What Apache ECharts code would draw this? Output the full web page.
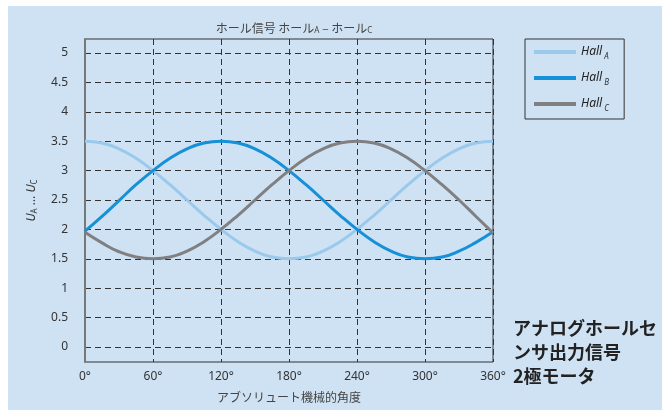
<!DOCTYPE html>
<html>
<head>
<meta charset="utf-8">
<script src="https://cdn.jsdelivr.net/npm/echarts@6/dist/echarts.min.js"></script>
<style>
html,body{margin:0;padding:0;background:#fff;}
#chart{width:662px;height:410px;background:linear-gradient(#cfe2f3,#cfe2f3) no-repeat 8px 6px / 654px 404px, #fff;}
</style>
</head>
<body>
<div id="chart"></div>
<script>
// Data
const angles = [0,15,30,45,60,75,90,105,120,135,150,165,180,195,210,225,240,255,270,285,300,315,330,345,360];
const hallA = [3.50,3.47,3.37,3.21,3.00,2.76,2.50,2.24,2.00,1.79,1.63,1.53,1.50,1.53,1.63,1.79,2.00,2.24,2.50,2.76,3.00,3.21,3.37,3.47,3.50];
const hallB = [1.97,2.22,2.49,2.76,3.00,3.21,3.37,3.47,3.50,3.47,3.37,3.21,3.00,2.76,2.50,2.24,2.00,1.79,1.63,1.53,1.50,1.53,1.63,1.78,1.96];
const hallC = [1.95,1.77,1.62,1.53,1.50,1.53,1.63,1.79,2.00,2.24,2.50,2.76,3.00,3.21,3.37,3.47,3.50,3.47,3.37,3.21,3.00,2.76,2.50,2.22,1.94];
const xTicks = [0,60,120,180,240,300,360];
const legendBase = 'Hall';
const subs = ['A','B','C'];
// unique series names that all display as "Hall" (zero-width suffixes)
const seriesNames = subs.map((s,k)=>legendBase + '\u200b'.repeat(k));

const FONT = "'Noto Sans', 'Noto Sans CJK JP', sans-serif";
const JFONT = "'Noto Sans CJK JP', 'Noto Sans', sans-serif";
const colors = ['#9ac9ec','#1690d6','#808082'];

function pairs(vals){ return angles.map((a,i)=>[a, vals[i]]); }

// legend geometry
const LEG_LEFT = 525, LEG_TOP = 39, LEG_PAD = [7,22,9,9], ROW_H = 12, ROW_GAP = 14;
const ICON_W = 42, TEXT_GAP = 8, LEG_FONT = 12;
const ctx = document.createElement('canvas').getContext('2d');
ctx.font = 'italic ' + LEG_FONT + 'px ' + FONT;
const baseW = ctx.measureText(legendBase).width;
const subX = LEG_LEFT + LEG_PAD[3] + ICON_W + TEXT_GAP + baseW - 1;

const chart = echarts.init(document.getElementById('chart'), null, {renderer:'canvas'});
const dash = {color:'#333', type:[6,4], width:1};

const subGraphics = subs.map((s,k)=>({
  type:'text', left:subX, top: LEG_TOP + LEG_PAD[0] + k*(ROW_H+ROW_GAP) + ROW_H/2 + 1,
  style:{text:s, font:'italic 8px ' + FONT, fill:'#333'}
}));

chart.setOption({
  animation:false,
  backgroundColor:'transparent',
  textStyle:{fontFamily:FONT},
  title:{
    text:'ホール信号 ホール{s|A} – ホール{s|C}',
    left:289, textAlign:'center', top:16,
    textStyle:{fontFamily:JFONT, fontSize:12, fontWeight:'normal', color:'#444',
      rich:{s:{fontSize:8, color:'#444', fontFamily:FONT, padding:[6,0,0,0]}}}
  },
  grid:[
    {left:85, right:169, top:39, bottom:48, show:true, borderColor:'#333', borderWidth:1, backgroundColor:'transparent'},
    {left:85, right:169, top:53, bottom:63}
  ],
  xAxis:[
    {gridIndex:0, type:'value', min:0, max:360, interval:60,
      axisLine:{show:false}, axisTick:{show:false},
      splitLine:{show:true, lineStyle:dash},
      axisLabel:{formatter:'{value}°', color:'#333', fontSize:12, margin:9, fontFamily:FONT},
      name:'アブソリュート機械的角度', nameLocation:'middle', nameGap:29,
      nameTextStyle:{fontFamily:JFONT, fontSize:12, color:'#444'}},
    {gridIndex:1, type:'value', min:0, max:360, show:false}
  ],
  yAxis:[
    {gridIndex:0, type:'value', min:0, max:1,
      axisLine:{show:true, lineStyle:{color:'#77787a', width:2}},
      axisTick:{show:false}, axisLabel:{show:false}, splitLine:{show:false},
      name:'{i|U}{s|A}{t| … }{i|U}{s|C}', nameLocation:'middle', nameGap:46, nameRotate:90,
      nameTextStyle:{color:'#333', rich:{
        i:{fontStyle:'italic', fontSize:12, color:'#333', fontFamily:FONT},
        s:{fontSize:8, color:'#333', fontFamily:FONT, padding:[6,0,0,0]},
        t:{fontSize:12, color:'#333', fontFamily:FONT}}}},
    {gridIndex:1, type:'value', min:0, max:5, interval:0.5,
      axisLine:{show:false}, axisTick:{show:false},
      splitLine:{show:true, lineStyle:dash},
      axisLabel:{color:'#333', fontSize:12, margin:17, fontFamily:FONT}}
  ],
  legend:{
    orient:'vertical', left:LEG_LEFT, top:LEG_TOP,
    padding:LEG_PAD, itemGap:ROW_GAP, itemTextGap:TEXT_GAP,
    borderColor:'#333', borderWidth:1, inactiveColor:'#333',
    icon:'rect', itemWidth:ICON_W, itemHeight:4,
    data:seriesNames,
    textStyle:{color:'#222', fontSize:LEG_FONT, fontStyle:'italic'}
  },
  graphic:[
    {type:'text', left:513, top:316, style:{
      text:'アナログホールセ\nンサ出力信号\n2極モータ',
      font:'bold 18px ' + JFONT, fill:'#222', lineHeight:24}}
  ].concat(subGraphics),
  series:[hallA, hallB, hallC].map((v,k)=>({
    name:seriesNames[k], type:'line', xAxisIndex:1, yAxisIndex:1,
    data:pairs(v), smooth:0.5, showSymbol:false, symbol:'none',
    lineStyle:{color:colors[k], width:3}, itemStyle:{color:colors[k]}
  }))
});
</script>
</body>
</html>
